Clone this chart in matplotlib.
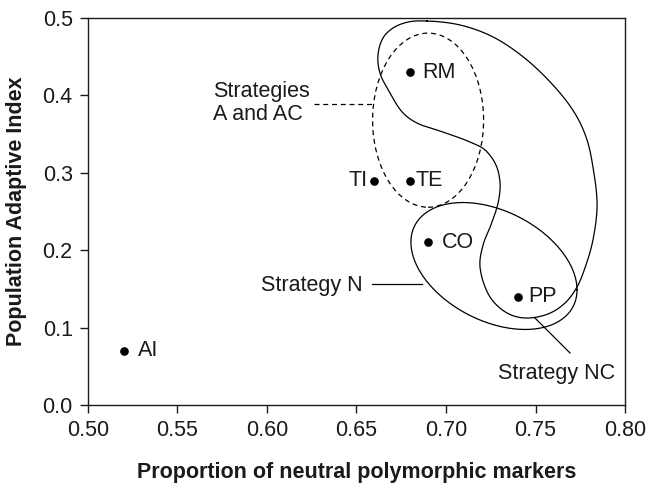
import numpy as np
import matplotlib
matplotlib.use("Agg")
import matplotlib.pyplot as plt
from matplotlib.patches import Ellipse

plt.rcParams['font.family'] = ['Liberation Sans', 'DejaVu Sans']

# ---- data ----
labels = ["AI", "TI", "TE", "RM", "CO", "PP"]
neutral_prop = [0.52, 0.66, 0.68, 0.68, 0.69, 0.74]
adaptive_idx = [0.07, 0.29, 0.29, 0.43, 0.21, 0.14]
label_offsets = {"AI": (10, 0), "TI": (-5, 0), "TE": (3.5, 0), "RM": (9, 0),
                 "CO": (10, 0), "PP": (8, 0)}

xticks = [0.50, 0.55, 0.60, 0.65, 0.70, 0.75, 0.80]
yticks = [0.0, 0.1, 0.2, 0.3, 0.4, 0.5]

# Grouping outlines (data units)
aac_center, aac_w, aac_h = (0.690, 0.368), 0.062, 0.225      # Strategies A and AC
n_center, n_rx, n_ry, n_phase = (0.7268, 0.1796), 0.0464, 0.082, np.deg2rad(112)  # Strategy N
nc_x = [0.6894, 0.7078, 0.7263, 0.7453, 0.7637, 0.7732, 0.7788, 0.7821, 0.7844,
        0.7821, 0.7782, 0.7732, 0.7665, 0.7570, 0.7441, 0.7341, 0.7246,
        0.7190, 0.7207, 0.7251, 0.7291, 0.7302, 0.7279, 0.7218, 0.7134, 0.6983,
        0.6838, 0.6760, 0.6687, 0.6631, 0.6620, 0.6648, 0.6704, 0.6788]
nc_y = [0.4961, 0.4910, 0.4755, 0.4457, 0.4031, 0.3721, 0.3424, 0.3075, 0.2584,
        0.2132, 0.1809, 0.1525, 0.1318, 0.1176, 0.1124, 0.1189, 0.1395,
        0.1783, 0.2067, 0.2326, 0.2610, 0.2868, 0.3101, 0.3295, 0.3398, 0.3527,
        0.3643, 0.3773, 0.4031, 0.4289, 0.4522, 0.4742, 0.4871, 0.4948]


def closed_centripetal_cr(P, n=30, alpha=0.5):
    m = len(P)
    out = []
    for i in range(m):
        p0, p1, p2, p3 = P[(i - 1) % m], P[i], P[(i + 1) % m], P[(i + 2) % m]
        t0 = 0.0
        t1 = t0 + np.linalg.norm(p1 - p0) ** alpha
        t2 = t1 + np.linalg.norm(p2 - p1) ** alpha
        t3 = t2 + np.linalg.norm(p3 - p2) ** alpha
        t = np.linspace(t1, t2, n, endpoint=False)[:, None]
        a1 = (t1 - t) / (t1 - t0) * p0 + (t - t0) / (t1 - t0) * p1
        a2 = (t2 - t) / (t2 - t1) * p1 + (t - t1) / (t2 - t1) * p2
        a3 = (t3 - t) / (t3 - t2) * p2 + (t - t2) / (t3 - t2) * p3
        b1 = (t2 - t) / (t2 - t0) * a1 + (t - t0) / (t2 - t0) * a2
        b2 = (t3 - t) / (t3 - t1) * a2 + (t - t1) / (t3 - t1) * a3
        out.append((t2 - t) / (t2 - t1) * b1 + (t - t1) / (t2 - t1) * b2)
    out = np.vstack(out)
    return np.vstack([out, out[:1]])


FS = 15.5
TXT = '#1a1a1a'

fig = plt.figure(figsize=(6.47, 4.84), dpi=100)
ax = fig.add_axes([0.136, 0.1632, 0.830, 0.7996])
ax.set_xlim(0.50, 0.80)
ax.set_ylim(0.0, 0.5)

ax.plot(neutral_prop, adaptive_idx, 'o', color='black', markersize=5.2, zorder=5)
for lab, x, y in zip(labels, neutral_prop, adaptive_idx):
    dx, dy = label_offsets[lab]
    ax.annotate(lab, (x, y), xytext=(dx, dy), textcoords='offset points',
                ha='right' if dx < 0 else 'left', va='center', fontsize=FS, color=TXT)

lw = 0.9
# Strategies A and AC (dashed ellipse)
ax.add_patch(Ellipse(aac_center, aac_w, aac_h, fill=False, linestyle=(0, (4, 3)),
                     linewidth=lw, color='black'))
# Strategy N (tilted ellipse)
tt = np.linspace(0, 2 * np.pi, 300)
ax.plot(n_center[0] + n_rx * np.cos(tt), n_center[1] + n_ry * np.cos(tt - n_phase),
        color='black', linewidth=lw)
# Strategy NC (freeform outline), smoothed in display space
disp = ax.transData.transform(np.column_stack([nc_x, nc_y]))
curve = ax.transData.inverted().transform(closed_centripetal_cr(disp))
ax.plot(curve[:, 0], curve[:, 1], color='black', linewidth=lw)

# Labels with leader lines
ax.text(0.5698, 0.3902, "Strategies\nA and AC", ha='left', va='center', fontsize=FS,
        color=TXT, linespacing=1.15)
ax.plot([0.6263, 0.6587], [0.3889, 0.3889], linestyle=(0, (4, 3)), color='black', linewidth=lw)

ax.text(0.6536, 0.155, "Strategy N", ha='right', va='center', fontsize=FS, color=TXT)
ax.plot([0.6587, 0.6866], [0.1563, 0.1563], color='black', linewidth=lw)

ax.text(0.7944, 0.0413, "Strategy NC", ha='right', va='center', fontsize=FS, color=TXT)
ax.plot([0.7497, 0.7693], [0.1124, 0.0672], color='black', linewidth=lw)

ax.set_xticks(xticks)
ax.set_xticklabels([f"{v:.2f}" for v in xticks])
ax.set_yticks(yticks)
ax.set_yticklabels([f"{v:.1f}" for v in yticks])
ax.tick_params(direction='out', length=6, width=1, labelsize=FS, colors=TXT, pad=5)
for s in ax.spines.values():
    s.set_linewidth(1.0)
    s.set_color(TXT)

ax.set_xlabel("Proportion of neutral polymorphic markers", fontsize=FS, fontweight='bold',
              labelpad=15, color=TXT)
ax.set_ylabel("Population Adaptive Index", fontsize=FS, fontweight='bold', labelpad=11,
              color=TXT)

fig.savefig("out.png", dpi=100)
